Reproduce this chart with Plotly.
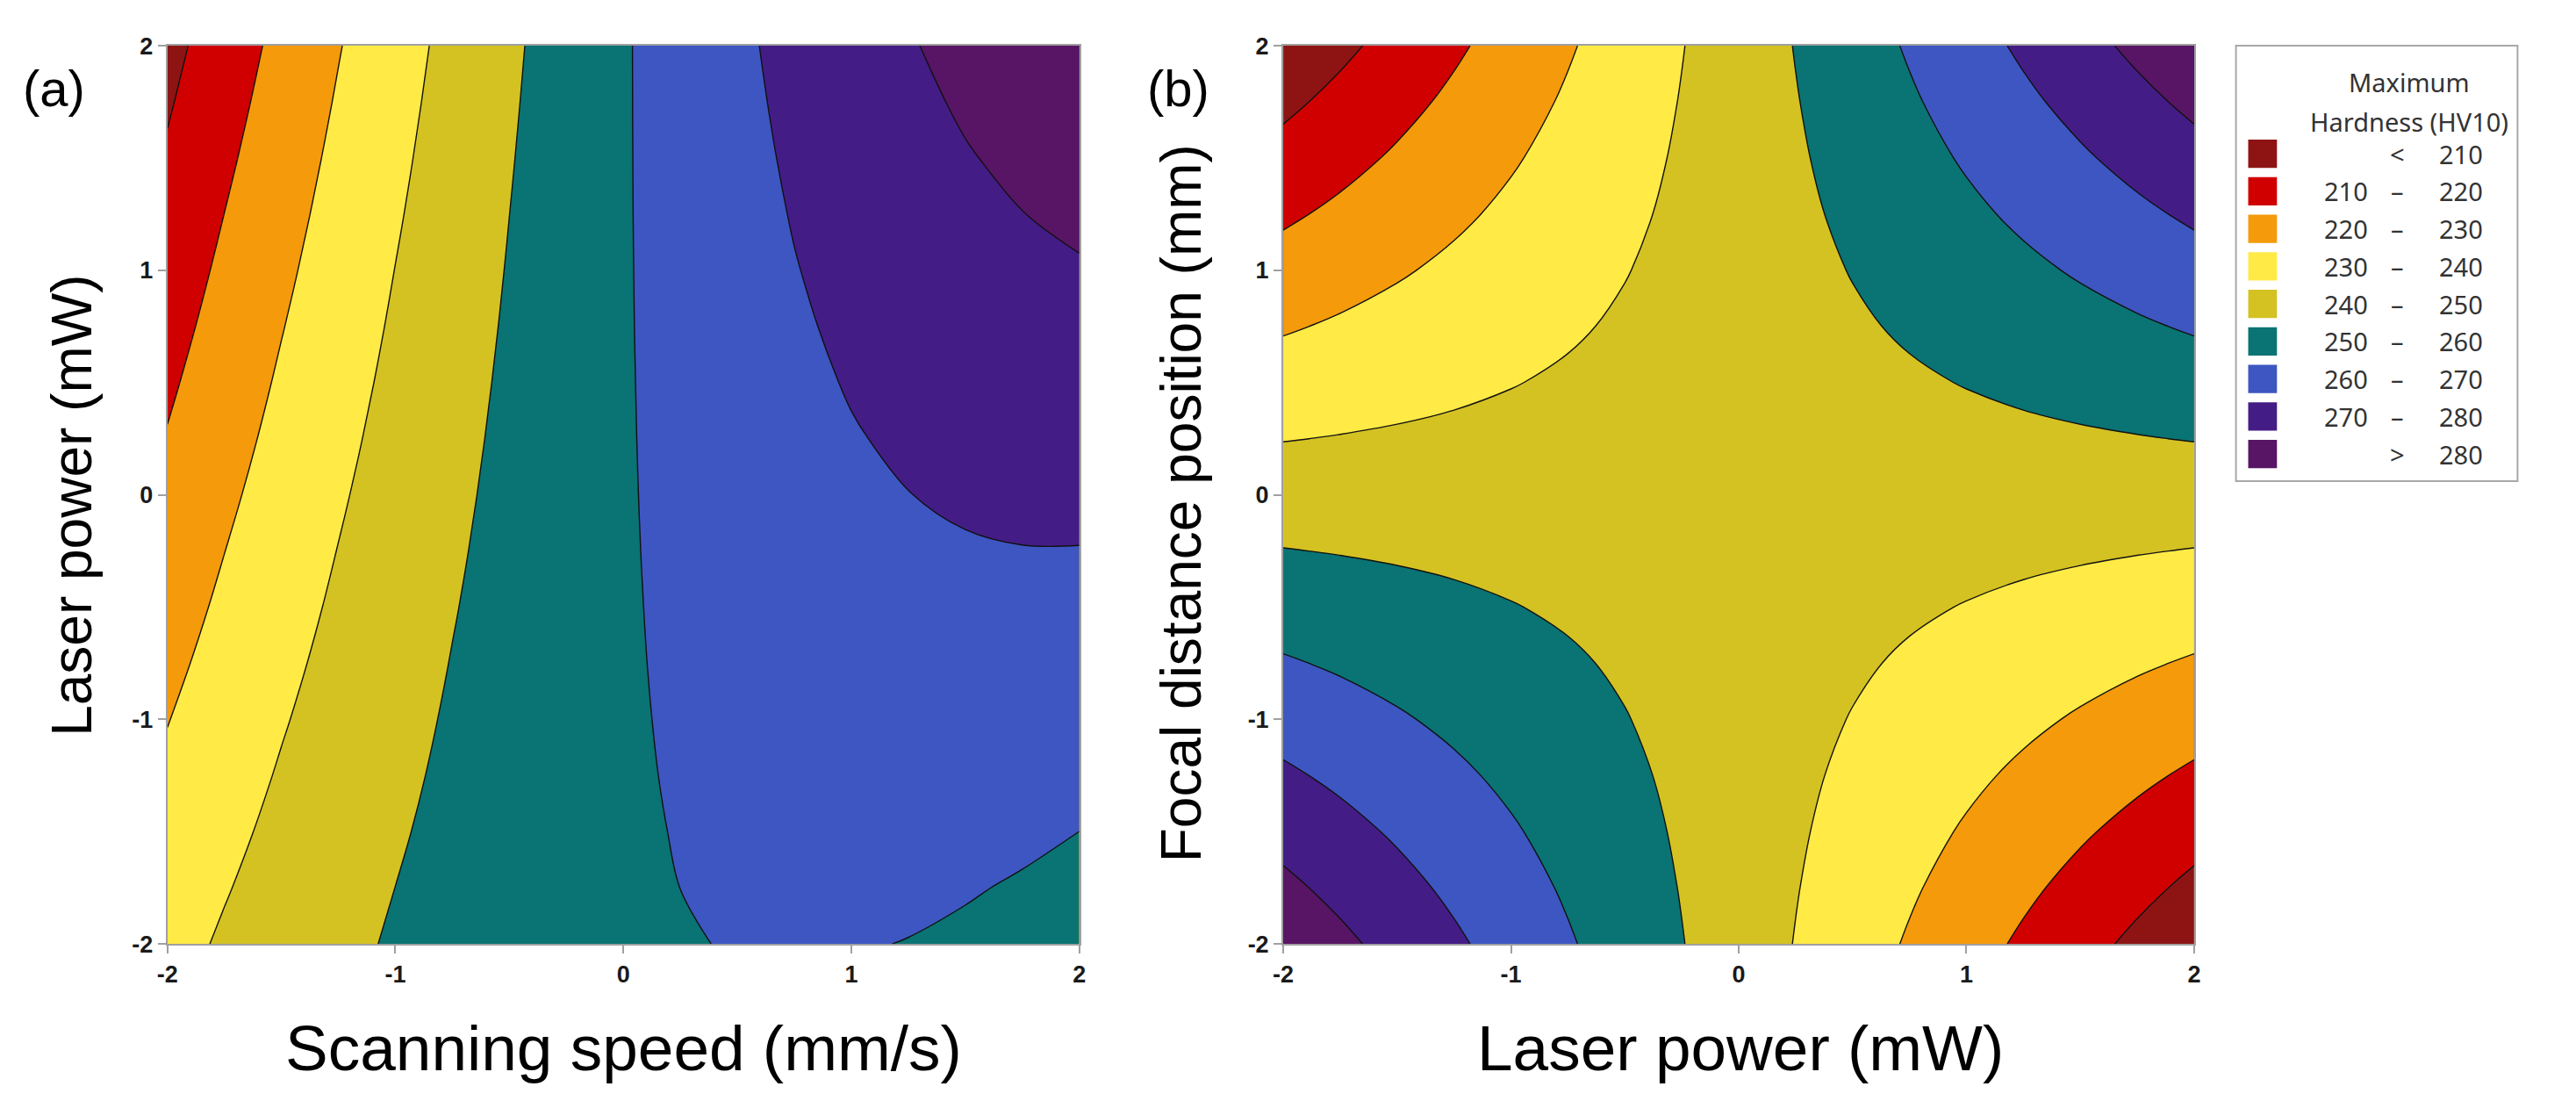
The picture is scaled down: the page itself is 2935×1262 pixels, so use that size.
import plotly.graph_objects as go

W, H = 2935, 1262

# ---------------- data ----------------
# coded factor levels (both panels use the same -2 ... 2 design range)
speed_a = [-2.0, -1.75, -1.5, -1.25, -1.0, -0.75, -0.5, -0.25, 0.0,
           0.25, 0.5, 0.75, 1.0, 1.25, 1.5, 1.75, 2.0]
power_a = [-2.0, -1.75, -1.5, -1.25, -1.0, -0.75, -0.5, -0.25, 0.0,
           0.25, 0.5, 0.75, 1.0, 1.25, 1.5, 1.75, 2.0]

# panel (a): maximum hardness, rows = laser power (-2 -> 2), columns = scanning speed (-2 -> 2)
hardness_a = [
    [236.99, 241.04, 244.70, 247.98, 250.88, 253.40, 255.53, 257.29, 258.67, 259.67, 260.28, 260.52, 260.38, 259.85, 258.95, 257.66, 255.99],
    [235.19, 239.47, 243.37, 246.89, 250.03, 252.78, 255.16, 257.16, 258.77, 260.01, 260.86, 261.33, 261.43, 261.14, 260.47, 259.42, 258.00],
    [233.39, 237.90, 242.04, 245.79, 249.17, 252.16, 254.78, 257.01, 258.86, 260.33, 261.43, 262.14, 262.47, 262.42, 261.99, 261.18, 259.99],
    [231.57, 236.32, 240.70, 244.69, 248.30, 251.53, 254.38, 256.86, 258.95, 260.66, 261.98, 262.93, 263.50, 263.69, 263.50, 262.92, 261.97],
    [229.74, 234.74, 239.35, 243.58, 247.43, 250.90, 253.98, 256.69, 259.02, 260.97, 262.53, 263.72, 264.53, 264.95, 265.00, 264.66, 263.94],
    [227.91, 233.14, 237.99, 242.45, 246.54, 250.25, 253.57, 256.52, 259.09, 261.27, 263.07, 264.50, 265.54, 266.20, 266.49, 266.39, 265.91],
    [226.07, 231.53, 236.62, 241.32, 245.65, 249.59, 253.16, 256.34, 259.14, 261.56, 263.61, 265.27, 266.55, 267.45, 267.97, 268.11, 267.87],
    [224.21, 229.92, 235.24, 240.18, 244.75, 248.93, 252.73, 256.15, 259.19, 261.85, 264.13, 266.03, 267.55, 268.68, 269.44, 269.82, 269.81],
    [222.35, 228.30, 233.86, 239.04, 243.84, 248.26, 252.29, 255.95, 259.23, 262.13, 264.64, 266.78, 268.54, 269.91, 270.91, 271.52, 271.75],
    [220.48, 226.66, 232.46, 237.88, 242.92, 247.57, 251.85, 255.75, 259.26, 262.40, 265.15, 267.52, 269.52, 271.13, 272.36, 273.21, 273.68],
    [218.61, 225.02, 231.06, 236.71, 241.99, 246.88, 251.40, 255.53, 259.28, 262.65, 265.65, 268.26, 270.49, 272.34, 273.81, 274.90, 275.61],
    [216.72, 223.37, 229.65, 235.54, 241.05, 246.18, 250.93, 255.31, 259.30, 262.91, 266.13, 268.98, 271.45, 273.54, 275.25, 276.57, 277.52],
    [214.82, 221.72, 228.23, 234.36, 240.11, 245.48, 250.46, 255.07, 259.30, 263.15, 266.61, 269.70, 272.41, 274.73, 276.68, 278.24, 279.42],
    [212.92, 220.05, 226.80, 233.16, 239.15, 244.76, 249.98, 254.83, 259.30, 263.38, 267.08, 270.41, 273.35, 275.91, 278.10, 279.90, 281.32],
    [211.01, 218.37, 225.36, 231.96, 238.19, 244.03, 249.50, 254.58, 259.28, 263.60, 267.55, 271.11, 274.29, 277.09, 279.51, 281.55, 283.21],
    [209.08, 216.69, 223.91, 230.75, 237.22, 243.30, 249.00, 254.32, 259.26, 263.82, 268.00, 271.80, 275.22, 278.25, 280.91, 283.19, 285.08],
    [207.15, 215.00, 222.46, 229.54, 236.24, 242.56, 248.49, 254.05, 259.23, 264.03, 268.44, 272.48, 276.14, 279.41, 282.31, 284.82, 286.95],
]

power_b = [-2.0, -1.75, -1.5, -1.25, -1.0, -0.75, -0.5, -0.25, 0.0,
           0.25, 0.5, 0.75, 1.0, 1.25, 1.5, 1.75, 2.0]
focal_b = [-2.0, -1.75, -1.5, -1.25, -1.0, -0.75, -0.5, -0.25, 0.0,
           0.25, 0.5, 0.75, 1.0, 1.25, 1.5, 1.75, 2.0]

# panel (b): maximum hardness, rows = focal distance position (-2 -> 2), columns = laser power (-2 -> 2)
hardness_b = [
    [287.40, 282.10, 276.80, 271.50, 266.20, 260.90, 255.60, 250.30, 245.00, 239.70, 234.40, 229.10, 223.80, 218.50, 213.20, 207.90, 202.60],
    [282.10, 277.46, 272.83, 268.19, 263.55, 258.91, 254.28, 249.64, 245.00, 240.36, 235.73, 231.09, 226.45, 221.81, 217.18, 212.54, 207.90],
    [276.80, 272.83, 268.85, 264.88, 260.90, 256.93, 252.95, 248.98, 245.00, 241.03, 237.05, 233.08, 229.10, 225.13, 221.15, 217.18, 213.20],
    [271.50, 268.19, 264.88, 261.56, 258.25, 254.94, 251.63, 248.31, 245.00, 241.69, 238.38, 235.06, 231.75, 228.44, 225.13, 221.81, 218.50],
    [266.20, 263.55, 260.90, 258.25, 255.60, 252.95, 250.30, 247.65, 245.00, 242.35, 239.70, 237.05, 234.40, 231.75, 229.10, 226.45, 223.80],
    [260.90, 258.91, 256.93, 254.94, 252.95, 250.96, 248.98, 246.99, 245.00, 243.01, 241.03, 239.04, 237.05, 235.06, 233.08, 231.09, 229.10],
    [255.60, 254.28, 252.95, 251.63, 250.30, 248.98, 247.65, 246.33, 245.00, 243.68, 242.35, 241.03, 239.70, 238.38, 237.05, 235.73, 234.40],
    [250.30, 249.64, 248.98, 248.31, 247.65, 246.99, 246.33, 245.66, 245.00, 244.34, 243.68, 243.01, 242.35, 241.69, 241.03, 240.36, 239.70],
    [245.00, 245.00, 245.00, 245.00, 245.00, 245.00, 245.00, 245.00, 245.00, 245.00, 245.00, 245.00, 245.00, 245.00, 245.00, 245.00, 245.00],
    [239.70, 240.36, 241.03, 241.69, 242.35, 243.01, 243.68, 244.34, 245.00, 245.66, 246.33, 246.99, 247.65, 248.31, 248.98, 249.64, 250.30],
    [234.40, 235.73, 237.05, 238.38, 239.70, 241.03, 242.35, 243.68, 245.00, 246.33, 247.65, 248.98, 250.30, 251.63, 252.95, 254.28, 255.60],
    [229.10, 231.09, 233.08, 235.06, 237.05, 239.04, 241.03, 243.01, 245.00, 246.99, 248.98, 250.96, 252.95, 254.94, 256.93, 258.91, 260.90],
    [223.80, 226.45, 229.10, 231.75, 234.40, 237.05, 239.70, 242.35, 245.00, 247.65, 250.30, 252.95, 255.60, 258.25, 260.90, 263.55, 266.20],
    [218.50, 221.81, 225.13, 228.44, 231.75, 235.06, 238.38, 241.69, 245.00, 248.31, 251.63, 254.94, 258.25, 261.56, 264.88, 268.19, 271.50],
    [213.20, 217.18, 221.15, 225.13, 229.10, 233.08, 237.05, 241.03, 245.00, 248.98, 252.95, 256.93, 260.90, 264.88, 268.85, 272.83, 276.80],
    [207.90, 212.54, 217.18, 221.81, 226.45, 231.09, 235.73, 240.36, 245.00, 249.64, 254.28, 258.91, 263.55, 268.19, 272.83, 277.46, 282.10],
    [202.60, 207.90, 213.20, 218.50, 223.80, 229.10, 234.40, 239.70, 245.00, 250.30, 255.60, 260.90, 266.20, 271.50, 276.80, 282.10, 287.40],
]

tick_values = [-2, -1, 0, 1, 2]
tick_labels = ["-2", "-1", "0", "1", "2"]

band_colors = ["#8E1414", "#D00000", "#F59A0A", "#FFEA46", "#D4C223",
               "#0A7373", "#3D56C1", "#441C86", "#581565"]
band_low = ["", "210", "220", "230", "240", "250", "260", "270", ""]
band_sym = ["<", "\u2013", "\u2013", "\u2013", "\u2013", "\u2013", "\u2013", "\u2013", ">"]
band_high = ["210", "220", "230", "240", "250", "260", "270", "280", "280"]
legend_title = ["Maximum", "Hardness (HV10)"]

# ---------------- helpers ----------------
def px(x):
    return x / W


def py(y):
    return 1 - y / H


n_bands = len(band_colors)
colorscale = [[i / (n_bands - 1), c] for i, c in enumerate(band_colors)]
contours = dict(start=210, end=280, size=10, coloring="fill", showlines=True)
line_style = dict(color="#111111", width=1.4, smoothing=1)

fig = go.Figure()
fig.add_trace(go.Contour(x=speed_a, y=power_a, z=hardness_a, xaxis="x", yaxis="y",
                         contours=contours, colorscale=colorscale, showscale=False,
                         line=line_style, hoverinfo="skip"))
fig.add_trace(go.Contour(x=power_b, y=focal_b, z=hardness_b, xaxis="x2", yaxis="y2",
                         contours=contours, colorscale=colorscale, showscale=False,
                         line=line_style, hoverinfo="skip"))

axis_style = dict(range=[-2, 2], tickvals=tick_values, ticktext=tick_labels,
                  ticks="outside", ticklen=9, tickwidth=2, tickcolor="#a0a0a0",
                  showline=True, linecolor="#a0a0a0", linewidth=2, mirror=True,
                  showgrid=False, zeroline=False,
                  tickfont=dict(family="Liberation Sans", size=27, color="#1a1a1a", weight="bold"))

ydom = [py(1086), py(38)]
fig.update_layout(
    width=W, height=H, margin=dict(l=0, r=0, t=0, b=0),
    paper_bgcolor="white", plot_bgcolor="white",
    xaxis=dict(domain=[px(180), px(1226)], anchor="y", **axis_style),
    yaxis=dict(domain=ydom, anchor="x", **axis_style),
    xaxis2=dict(domain=[px(1460), px(2505)], anchor="y2", **axis_style),
    yaxis2=dict(domain=ydom, anchor="x2", **axis_style),
    showlegend=False,
)

xtitle_font = dict(family="Liberation Sans", size=73, color="black")
ytitle_font = dict(family="Liberation Sans", size=64, color="black")
ann = []
ann.append(dict(text="Scanning speed (mm/s)", x=px(703), y=py(1207), font=xtitle_font))
ann.append(dict(text="Laser power (mW)", x=px(71), y=py(575), textangle=-90, font=ytitle_font))
ann.append(dict(text="Laser power (mW)", x=px(1985), y=py(1207), font=xtitle_font))
ann.append(dict(text="Focal distance position (mm)", x=px(1344), y=py(572), textangle=-90, font=ytitle_font))
ann.append(dict(text="(a)", x=px(50), y=py(88), font=dict(family="Liberation Sans", size=58, color="black")))
ann.append(dict(text="(b)", x=px(1340), y=py(88), font=dict(family="Liberation Sans", size=58, color="black")))

# legend box
shapes = [dict(type="rect", xref="paper", yref="paper", x0=px(2553), x1=px(2876),
               y0=py(546), y1=py(38), line=dict(color="#a8a8a8", width=2), fillcolor="white")]
leg_font = dict(family="Noto Sans", size=29, color="#333333")
ann.append(dict(text=legend_title[0], x=px(2752), y=py(80), font=leg_font))
ann.append(dict(text=legend_title[1], x=px(2752), y=py(126), font=leg_font))
for i in range(n_bands):
    yc = 164 + i * 43.8
    shapes.append(dict(type="rect", xref="paper", yref="paper", x0=px(2567), x1=px(2600),
                       y0=py(yc + 16.5), y1=py(yc - 16.5), line=dict(width=0),
                       fillcolor=band_colors[i]))
    if band_low[i]:
        ann.append(dict(text=band_low[i], x=px(2706), y=py(yc), xanchor="right", font=leg_font))
    ann.append(dict(text=band_sym[i], x=px(2738), y=py(yc), font=leg_font))
    ann.append(dict(text=band_high[i], x=px(2838), y=py(yc), xanchor="right", font=leg_font))

for a in ann:
    a.setdefault("xref", "paper")
    a.setdefault("yref", "paper")
    a.setdefault("showarrow", False)
    a.setdefault("xanchor", "center")
    a.setdefault("yanchor", "middle")

fig.update_layout(annotations=ann, shapes=shapes)

fig.write_html("out.html", config={"displayModeBar": False},
               post_script="document.body.style.margin='0';document.body.style.overflow='hidden';")
